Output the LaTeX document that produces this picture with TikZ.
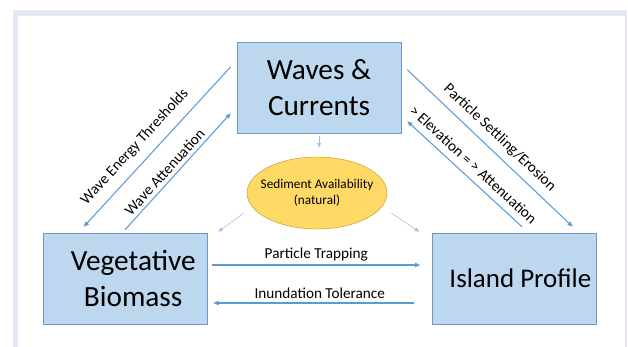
\documentclass[tikz,border=0pt]{standalone}
\usepackage{fontspec}
\setmainfont{Carlito}
\usepackage{tikz}
\usetikzlibrary{arrows.meta}
\usetikzlibrary{shapes.geometric}
\definecolor{boxblue}{RGB}{189,215,238}
\definecolor{edgeblue}{RGB}{112,150,200}
\definecolor{flowblue}{RGB}{91,155,213}
\definecolor{paleblue}{RGB}{157,195,230}
\definecolor{sandfill}{RGB}{255,217,102}
\definecolor{sandedge}{RGB}{196,156,40}
\definecolor{framecol}{RGB}{227,230,244}

\begin{document}
\begin{tikzpicture}[x=0.03cm,y=-0.03cm,
  bigbox/.style={draw=edgeblue,fill=boxblue,minimum width=4.92cm,minimum height=2.73cm,
    align=center,font=\fontsize{25}{31}\selectfont,inner sep=0pt},
  flow/.style={draw=flowblue,line width=0.9pt,-{Triangle[length=4.5pt,width=3.6pt]}},
  thinflow/.style={draw=paleblue,line width=0.5pt,-{Triangle[length=4pt,width=3.2pt]}},
  lab/.style={font=\fontsize{13}{15}\selectfont,inner sep=1pt}]
\useasboundingbox (0,0) rectangle (628,347);
\fill[framecol] (13,10) rectangle (627,16);
\fill[framecol] (13,10) rectangle (18,347);
\fill[framecol] (625,10) rectangle (627,347);
\node[bigbox] (waves) at (319,87.5) {Waves \&\\Currents};
\node[bigbox] (veg) at (125,278.5) {\hspace*{14pt}Vegetative\\\hspace*{14pt}Biomass};
\node[bigbox,font=\fontsize{23}{28}\selectfont] (island) at (514.5,278.5) {\hspace*{10pt}Island Profile};
\node[ellipse,draw=sandedge,fill=sandfill,minimum width=4.2cm,minimum height=2.16cm,
  align=center,font=\fontsize{11.3}{14}\selectfont,inner xsep=-9pt,inner ysep=0pt] (sed) at (317,193)
  {Sediment Availability\\(natural)};
\draw[flow] ([shift={(-6,25)}]waves.north west) -- ([shift={(41,-6)}]veg.north west)
  node[lab,sloped,above=7pt,pos=0.57] {Wave Energy Thresholds};
\draw[flow] ([shift={(0,-3)}]veg.north) -- ([shift={(-6,-20)}]waves.south west)
  node[lab,sloped,above=2pt,pos=0.44] {Wave Attenuation};
\draw[flow] ([shift={(6,28)}]waves.north east) -- ([shift={(-24,-6)}]island.north east)
  node[lab,sloped,above=5pt,pos=0.5] {Particle Settling/Erosion};
\draw[flow] ([shift={(7.5,-6)}]island.north) -- ([shift={(6,-12)}]waves.south east)
  node[lab,sloped,above=5pt,pos=0.5] {> Elevation = > Attenuation};
\draw[flow] ([shift={(5,-13.5)}]veg.east) -- ([shift={(-12,-13.5)}]island.west)
  node[lab,above=2pt,midway] {Particle Trapping};
\draw[flow] ([shift={(-18,24.5)}]island.west) -- ([shift={(6,24.5)}]veg.east)
  node[lab,above=2pt,pos=0.47] {Inundation Tolerance};
\draw[thinflow] ([shift={(0,3)}]waves.south) -- ([shift={(2,-9)}]sed.north);
\draw[thinflow] ([shift={(-3,20)}]sed.west) -- ([shift={(11,-1)}]veg.north east);
\draw[thinflow] ([shift={(4,20)}]sed.east) -- ([shift={(-13,-1)}]island.north west);
\end{tikzpicture}
\end{document}
